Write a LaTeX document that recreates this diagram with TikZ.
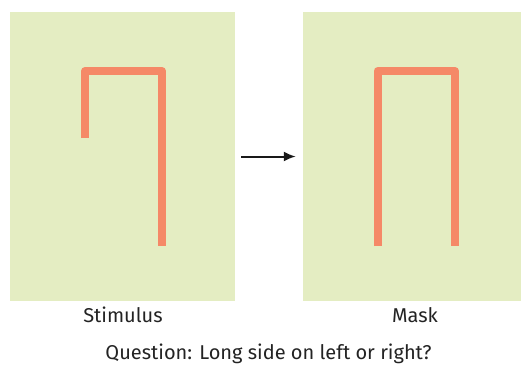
\documentclass[tikz,border=0pt]{standalone}
\usepackage{fontspec}
\setmainfont{Fira Sans}
\usepackage{tikz}
\usetikzlibrary{arrows.meta}
\definecolor{panelgreen}{RGB}{228,237,194}
\definecolor{barorange}{RGB}{245,137,103}
\definecolor{labelgray}{RGB}{35,35,35}

\begin{document}
\begin{tikzpicture}[x=1pt, y=-1pt,
		panel/.style={fill=panelgreen, draw=none, inner sep=0pt},
		bar/.style={barorange, line width=8pt, line join=round, line cap=butt},
		lbl/.style={anchor=base, text=labelgray, font=\fontsize{20}{24}\selectfont},
		flow/.style={-{Latex[length=12pt, width=10pt]}, line width=2pt, black!90}]
		
		\useasboundingbox (0,0) rectangle (521,364);
		
		% the two screens
		\node[panel, minimum width=225pt, minimum height=289pt] (stim) at (122.5,156.5) {};
		\node[panel, minimum width=218pt, minimum height=289pt] (mask) at (412,156.5) {};
		
		% stimulus: long side on the right
		\draw[bar] (85,138) -- (85,71) -- (162,71) -- (162,246);
		
		% mask: both sides long
		\draw[bar] (377.5,246) -- (377.5,71) -- (455,71) -- (455,246);
		
		\draw[flow, shorten <=6pt, shorten >=7pt] (stim.east) -- (mask.west);
		
		\node[lbl] (stimlbl) at (123,322) {Stimulus};
		\node[lbl] (masklbl) at (415,322) {Mask};
		\node[lbl] (question) at (268.5,359) {Question: Long side on left or right?};
		
	\end{tikzpicture}
\end{document}
